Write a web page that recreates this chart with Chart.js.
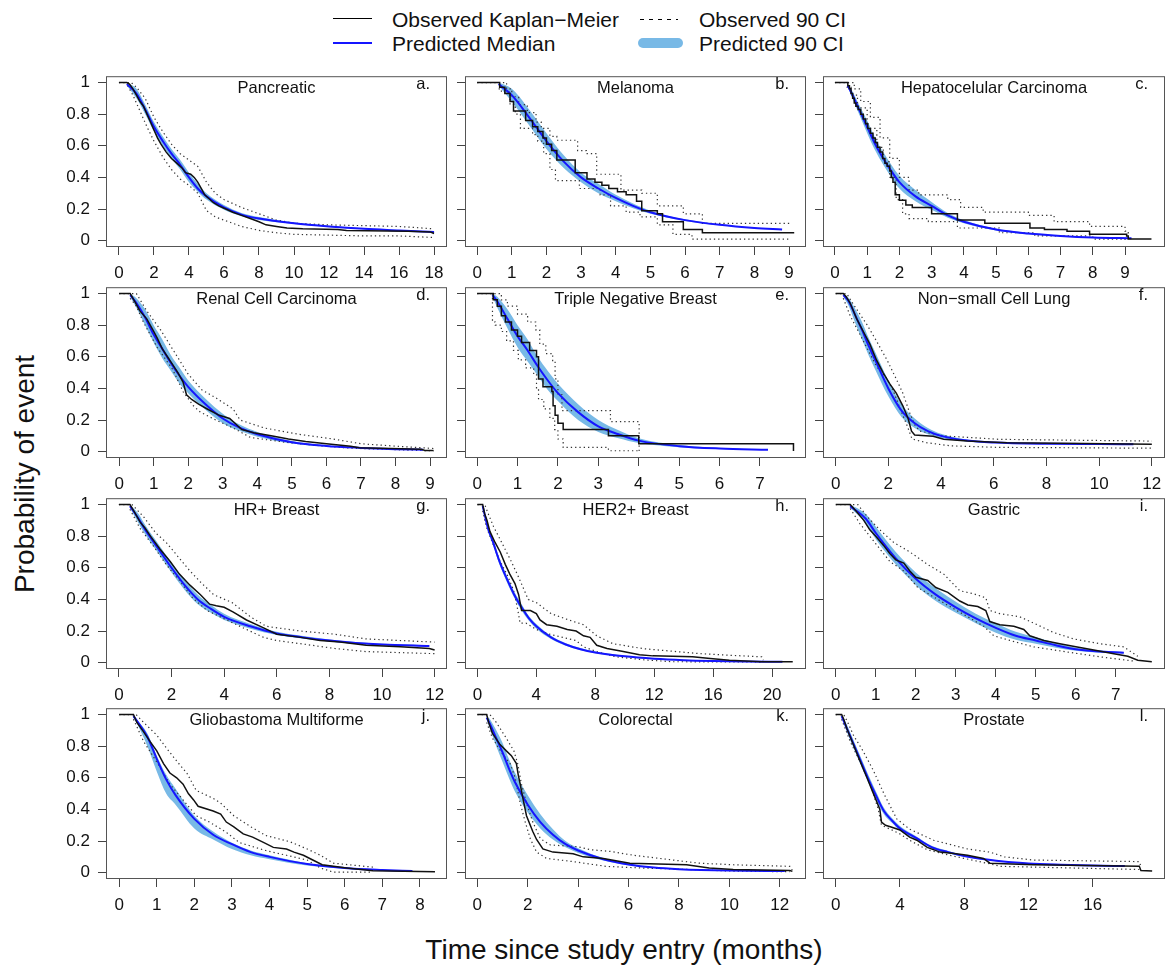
<!DOCTYPE html>
<html>
<head>
<meta charset="utf-8">
<title>Kaplan-Meier panels</title>
<script src="https://cdn.jsdelivr.net/npm/chart.js@4.4.1/dist/chart.umd.min.js"></script>
<style>
  body { margin: 0; background: #fff; }
  #fig { position: relative; width: 1167px; height: 969px; overflow: hidden;
         font-family: "Liberation Sans", Arial, Helvetica, sans-serif; color: #111; }
  #fig canvas { position: absolute; }
  .txt { position: absolute; line-height: 1; white-space: nowrap; }
  .legtxt { font-size: 21px; }
  .sample { position: absolute; }
</style>
</head>
<body>
<div id="fig">
  <div class="sample" style="left:333px;top:18px;width:39px;height:0;border-top:1.5px solid #000;"></div>
  <div class="txt legtxt" style="left:392px;top:8.5px;">Observed Kaplan−Meier</div>
  <div class="sample" style="left:333px;top:42px;width:39px;height:0;border-top:2px solid #1515ff;"></div>
  <div class="txt legtxt" style="left:392px;top:32.5px;">Predicted Median</div>
  <div class="sample" style="left:640px;top:19px;width:38px;height:1px;background:repeating-linear-gradient(to right,#000 0 4px,transparent 4px 9px);"></div>
  <div class="txt legtxt" style="left:699px;top:8.5px;">Observed 90 CI</div>
  <div class="sample" style="left:638px;top:38px;width:45px;height:10px;border-radius:5px;background:#78b9e6;"></div>
  <div class="txt legtxt" style="left:699px;top:32.5px;">Predicted 90 CI</div>
  <div class="txt" style="left:25px;top:474px;font-size:28px;transform:translate(-50%,-50%) rotate(-90deg);">Probability of event</div>
  <div class="txt" style="left:624px;top:950px;font-size:28px;transform:translate(-50%,-50%);">Time since study entry (months)</div>
</div>
<script>
// ---- panel labels and axes ----
const panelTitles = ['Pancreatic', 'Melanoma', 'Hepatocelular Carcinoma',
    'Renal Cell Carcinoma', 'Triple Negative Breast', 'Non\u2212small Cell Lung',
    'HR+ Breast', 'HER2+ Breast', 'Gastric',
    'Gliobastoma Multiforme', 'Colorectal', 'Prostate'];
const panelLetters = ['a.', 'b.', 'c.', 'd.', 'e.', 'f.', 'g.', 'h.', 'i.', 'j.', 'k.', 'l.'];
// small cohorts show visible steps, large ones look nearly smooth
const kmStepped = [false, true, true, false, true, false, false, false, false, false, false, false];
const yTicks = [0, 0.2, 0.4, 0.6, 0.8, 1];
const xTicks = [
    [0, 2, 4, 6, 8, 10, 12, 14, 16, 18], [0, 1, 2, 3, 4, 5, 6, 7, 8, 9], [0, 1, 2, 3, 4, 5, 6, 7, 8, 9],
    [0, 1, 2, 3, 4, 5, 6, 7, 8, 9], [0, 1, 2, 3, 4, 5, 6, 7], [0, 2, 4, 6, 8, 10, 12],
    [0, 2, 4, 6, 8, 10, 12], [0, 4, 8, 12, 16, 20], [0, 1, 2, 3, 4, 5, 6, 7],
    [0, 1, 2, 3, 4, 5, 6, 7, 8], [0, 2, 4, 6, 8, 10, 12], [0, 4, 8, 12, 16]
];
const xLimits = [
    [-0.74, 18.74], [-0.35, 9.49], [-0.37, 10.24],
    [-0.38, 9.49], [-0.3, 8.14], [-0.48, 12.5],
    [-0.49, 12.47], [-0.84, 22.3], [-0.32, 8.23],
    [-0.35, 8.72], [-0.49, 13.04], [-0.79, 20.5]
];

// ---- a. Pancreatic ----
const kmA = [[0,1],[0.45,1],[0.6,0.99],[0.8,0.96],[1.0,0.92],[1.2,0.88],[1.4,0.85],[1.6,0.80],[1.8,0.75],[2.0,0.70],[2.2,0.65],[2.4,0.61],[2.7,0.56],[3.0,0.52],[3.3,0.49],[3.6,0.46],[3.8,0.43],[4.1,0.42],[4.3,0.40],[4.5,0.37],[4.7,0.33],[4.9,0.29],[5.1,0.27],[5.4,0.24],[5.7,0.22],[6.1,0.20],[6.5,0.18],[7.0,0.16],[7.5,0.14],[8.0,0.12],[8.4,0.10],[9.0,0.09],[9.6,0.08],[10.5,0.075],[12.5,0.07],[13.0,0.065],[16.5,0.06],[17.8,0.055],[18.0,0.045]];
const ciUpA = [[0,1],[0.7,1],[1.0,0.97],[1.5,0.90],[2.0,0.78],[2.5,0.69],[3.0,0.61],[3.5,0.55],[4.0,0.51],[4.5,0.47],[5.0,0.37],[5.5,0.30],[6.0,0.26],[7.0,0.21],[8.0,0.17],[9.0,0.13],[10,0.11],[12,0.10],[14,0.095],[16,0.09],[18,0.075]];
const ciLoA = [[0.5,0.98],[0.8,0.92],[1.2,0.82],[1.6,0.72],[2.0,0.63],[2.5,0.53],[3.0,0.45],[3.5,0.39],[4.0,0.35],[4.5,0.30],[5.0,0.19],[5.5,0.15],[6,0.13],[7,0.09],[8,0.065],[9,0.05],[10,0.04],[12,0.035],[14,0.03],[16,0.03],[18,0.02]];
const predTA = [0.45,1,1.5,2,2.5,3,3.5,4,4.5,5,6,7,8,10,12,14,16,18];
const predMedA = [0.99,0.93,0.83,0.72,0.63,0.55,0.48,0.40,0.33,0.28,0.21,0.165,0.14,0.11,0.09,0.075,0.065,0.055];
const predLoA = [0.98,0.90,0.80,0.69,0.60,0.52,0.45,0.37,0.31,0.26,0.195,0.155,0.13,0.105,0.086,0.072,0.062,0.053];
const predHiA = [1.0,0.96,0.86,0.75,0.66,0.58,0.51,0.43,0.36,0.30,0.225,0.175,0.15,0.115,0.094,0.078,0.068,0.057];

// ---- b. Melanoma ----
const kmB = [[0,1],[0.62,1],[0.65,0.97],[0.8,0.93],[0.95,0.88],[1.05,0.82],[1.4,0.76],[1.6,0.72],[1.75,0.69],[1.9,0.65],[2.0,0.61],[2.15,0.57],[2.3,0.51],[2.83,0.43],[3.17,0.39],[3.4,0.37],[3.6,0.35],[3.8,0.33],[4.05,0.31],[4.3,0.29],[4.6,0.25],[4.75,0.19],[5.2,0.17],[5.35,0.12],[5.95,0.07],[6.5,0.05],[9.15,0.05]];
const ciUpB = [[0,1],[0.75,1],[0.85,0.96],[1.0,0.91],[1.2,0.86],[1.45,0.81],[1.7,0.75],[1.85,0.71],[2.1,0.66],[2.3,0.635],[2.9,0.57],[3.15,0.55],[3.45,0.42],[4.15,0.32],[4.75,0.30],[5.2,0.22],[5.95,0.17],[6.5,0.11],[9.05,0.11]];
const ciLoB = [[0.62,0.96],[0.7,0.94],[0.95,0.86],[1.1,0.80],[1.25,0.71],[1.6,0.67],[1.75,0.63],[1.92,0.55],[2.1,0.45],[2.26,0.38],[2.95,0.33],[3.55,0.29],[3.85,0.22],[4.3,0.18],[4.7,0.15],[5.2,0.10],[5.65,0.04],[6.2,0.01],[9.05,0.01]];
const predTB = [0.62,1,1.5,2,2.5,3,3.5,4,4.5,5,6,7,8,8.8];
const predMedB = [0.99,0.92,0.78,0.63,0.50,0.40,0.33,0.27,0.22,0.18,0.13,0.10,0.08,0.07];
const predLoB = [0.98,0.88,0.73,0.58,0.46,0.37,0.30,0.25,0.205,0.17,0.125,0.097,0.078,0.068];
const predHiB = [1.0,0.96,0.83,0.68,0.54,0.43,0.36,0.29,0.235,0.19,0.135,0.103,0.082,0.072];

// ---- c. Hepatocelular Carcinoma ----
const kmC = [[0,1],[0.36,1],[0.4,0.98],[0.45,0.96],[0.5,0.93],[0.55,0.9],[0.6,0.87],[0.65,0.85],[0.72,0.83],[0.8,0.80],[0.88,0.77],[0.95,0.74],[1.02,0.71],[1.1,0.68],[1.18,0.65],[1.25,0.62],[1.32,0.59],[1.4,0.56],[1.48,0.52],[1.55,0.49],[1.62,0.47],[1.7,0.44],[1.75,0.40],[1.8,0.37],[1.87,0.29],[2.0,0.255],[2.2,0.225],[2.4,0.21],[3.0,0.17],[3.8,0.13],[4.65,0.11],[6.05,0.08],[6.5,0.07],[7.2,0.06],[7.9,0.04],[9.05,0.03],[9.1,0.01],[9.82,0.01]];
const ciUpC = [[0,1],[0.45,1],[0.6,0.96],[0.8,0.88],[1.1,0.78],[1.4,0.65],[1.7,0.52],[2.0,0.40],[2.3,0.32],[2.6,0.29],[3.5,0.26],[3.9,0.21],[4.6,0.18],[6.0,0.16],[6.8,0.12],[7.9,0.09],[9.0,0.06],[9.1,0.03]];
const ciLoC = [[0.36,0.97],[0.5,0.92],[0.7,0.84],[1.0,0.71],[1.3,0.59],[1.5,0.50],[1.7,0.40],[1.9,0.26],[2.1,0.17],[2.3,0.14],[2.9,0.12],[3.8,0.08],[5.1,0.05],[6.2,0.03],[8.0,0.01],[9.0,0.005]];
const predTC = [0.4,0.5,0.75,1,1.25,1.5,1.75,2,2.5,3,3.5,4,5,6,7,8,9.2];
const predMedC = [0.98,0.94,0.83,0.72,0.61,0.52,0.44,0.37,0.28,0.22,0.16,0.12,0.07,0.045,0.03,0.02,0.015];
const predLoC = [0.97,0.92,0.80,0.68,0.57,0.48,0.40,0.33,0.25,0.195,0.145,0.11,0.065,0.04,0.027,0.018,0.013];
const predHiC = [0.99,0.96,0.86,0.76,0.65,0.56,0.48,0.41,0.32,0.245,0.175,0.13,0.075,0.05,0.033,0.022,0.017];

// ---- d. Renal Cell Carcinoma ----
const kmD = [[0,1],[0.32,1],[0.45,0.95],[0.6,0.89],[0.8,0.84],[1.0,0.76],[1.1,0.72],[1.25,0.65],[1.4,0.60],[1.55,0.55],[1.7,0.50],[1.85,0.44],[1.95,0.36],[2.1,0.33],[2.3,0.30],[2.55,0.27],[2.9,0.23],[3.2,0.21],[3.4,0.17],[3.55,0.14],[3.9,0.12],[4.4,0.10],[4.9,0.08],[5.4,0.065],[6.0,0.05],[6.7,0.035],[6.95,0.025],[8.75,0.015],[8.85,0.008],[9.1,0.008]];
const ciUpD = [[0,1],[0.5,1],[0.8,0.89],[1.2,0.77],[1.6,0.63],[2.0,0.49],[2.4,0.39],[2.8,0.34],[3.3,0.27],[3.5,0.20],[4.2,0.15],[5.2,0.11],[6.2,0.08],[7.0,0.05],[8.0,0.035],[9.1,0.02]];
const ciLoD = [[0.32,0.97],[0.5,0.92],[0.7,0.82],[1.1,0.66],[1.55,0.52],[1.85,0.38],[2.15,0.29],[2.35,0.25],[2.8,0.20],[3.3,0.15],[3.8,0.09],[4.8,0.06],[5.7,0.04],[6.7,0.022],[9.1,0.005]];
const predTD = [0.32,0.5,0.75,1,1.25,1.5,1.75,2,2.5,3,3.5,4,5,6,7,8,8.8];
const predMedD = [0.99,0.94,0.85,0.74,0.65,0.56,0.48,0.41,0.30,0.21,0.15,0.11,0.06,0.036,0.024,0.016,0.012];
const predLoD = [0.98,0.91,0.80,0.69,0.59,0.51,0.43,0.37,0.265,0.18,0.13,0.095,0.052,0.032,0.021,0.014,0.011];
const predHiD = [1.0,0.97,0.90,0.80,0.71,0.61,0.53,0.45,0.335,0.24,0.17,0.125,0.068,0.04,0.027,0.018,0.013];

// ---- e. Triple Negative Breast ----
const kmE = [[0,1],[0.38,1],[0.4,0.96],[0.5,0.92],[0.6,0.86],[0.7,0.82],[0.85,0.77],[1.0,0.73],[1.1,0.69],[1.3,0.64],[1.47,0.60],[1.52,0.46],[1.63,0.41],[1.85,0.38],[1.88,0.29],[1.93,0.23],[2.0,0.18],[2.13,0.14],[3.25,0.10],[4.0,0.05],[7.82,0.05],[7.83,0.005]];
const ciUpE = [[0,1],[0.48,1],[0.6,0.96],[0.75,0.92],[1.0,0.87],[1.25,0.82],[1.45,0.77],[1.55,0.68],[1.7,0.62],[1.87,0.57],[1.93,0.46],[2.0,0.36],[2.1,0.26],[3.25,0.26],[3.3,0.19],[4.0,0.19],[4.01,0.005]];
const ciLoE = [[0.38,1],[0.38,0.82],[0.45,0.80],[0.6,0.76],[0.73,0.70],[0.9,0.64],[1.02,0.58],[1.2,0.53],[1.4,0.49],[1.47,0.40],[1.52,0.33],[1.65,0.27],[1.8,0.21],[1.92,0.14],[2.0,0.08],[2.13,0.027],[3.25,0.006],[4.0,0.006]];
const predTE = [0.38,0.5,0.75,1,1.25,1.5,1.75,2,2.5,3,3.5,4,5,6,7.2];
const predMedE = [0.99,0.95,0.84,0.73,0.64,0.54,0.45,0.37,0.25,0.16,0.11,0.07,0.035,0.02,0.012];
const predLoE = [0.98,0.91,0.78,0.66,0.57,0.48,0.39,0.32,0.20,0.125,0.085,0.055,0.028,0.017,0.011];
const predHiE = [1.0,0.98,0.90,0.80,0.71,0.60,0.51,0.43,0.30,0.20,0.135,0.085,0.042,0.023,0.013];

// ---- f. Non-small Cell Lung ----
const kmF = [[0,1],[0.29,1],[0.4,0.98],[0.55,0.94],[0.7,0.88],[0.8,0.84],[1.05,0.76],[1.3,0.68],[1.55,0.58],[1.8,0.50],[2.05,0.43],[2.3,0.37],[2.55,0.29],[2.75,0.21],[2.88,0.13],[3.0,0.105],[3.7,0.098],[4.1,0.078],[5.0,0.067],[6.5,0.057],[9.4,0.051],[12,0.047]];
const ciUpF = [[0,1],[0.42,1],[0.6,0.95],[0.8,0.90],[1.2,0.80],[1.55,0.70],[1.95,0.58],[2.3,0.46],[2.55,0.37],[2.8,0.25],[3.0,0.17],[3.2,0.13],[4.1,0.10],[6.2,0.078],[12,0.067]];
const ciLoF = [[0.29,0.97],[0.55,0.86],[0.8,0.78],[1.05,0.70],[1.3,0.62],[1.55,0.54],[1.95,0.46],[2.2,0.38],[2.45,0.27],[2.7,0.17],[2.9,0.08],[3.45,0.057],[4.35,0.037],[6.2,0.027],[12,0.022]];
const predTF = [0.29,0.5,0.75,1,1.25,1.5,2,2.5,3,3.5,4,5,6,8,10,11.3];
const predMedF = [0.99,0.95,0.86,0.77,0.67,0.58,0.40,0.26,0.18,0.13,0.10,0.07,0.058,0.05,0.048,0.047];
const predLoF = [0.98,0.92,0.81,0.71,0.61,0.52,0.35,0.22,0.15,0.11,0.087,0.064,0.055,0.048,0.046,0.045];
const predHiF = [1.0,0.97,0.90,0.82,0.72,0.63,0.45,0.30,0.21,0.15,0.113,0.076,0.061,0.052,0.05,0.049];

// ---- g. HR+ Breast ----
const kmG = [[0,1],[0.42,1],[0.6,0.95],[0.8,0.89],[1.0,0.85],[1.2,0.80],[1.55,0.72],[1.95,0.64],[2.3,0.56],[2.7,0.49],[3.1,0.43],[3.45,0.37],[3.7,0.36],[4.0,0.35],[4.35,0.32],[4.85,0.27],[5.5,0.22],[6.0,0.18],[6.9,0.16],[7.65,0.14],[8.4,0.13],[9.4,0.11],[10.7,0.10],[11.8,0.09],[12,0.08]];
const ciUpG = [[0,1],[0.5,1],[0.95,0.92],[1.4,0.82],[1.8,0.76],[2.2,0.68],[2.7,0.58],[3.1,0.51],[3.6,0.43],[4.3,0.38],[5.0,0.29],[5.6,0.23],[6.9,0.20],[8.2,0.18],[9.4,0.15],[12,0.13]];
const ciLoG = [[0.42,0.97],[0.8,0.85],[1.3,0.74],[1.8,0.62],[2.3,0.52],[2.8,0.41],[3.35,0.33],[4.1,0.27],[4.85,0.21],[5.5,0.16],[6.0,0.14],[6.9,0.12],[8.2,0.09],[9.4,0.07],[12,0.057]];
const predTG = [0.42,0.75,1,1.5,2,2.5,3,3.5,4,5,6,7,8,9,10,11.8];
const predMedG = [0.99,0.91,0.84,0.72,0.60,0.49,0.40,0.34,0.29,0.23,0.185,0.16,0.14,0.125,0.115,0.105];
const predLoG = [0.98,0.88,0.81,0.69,0.57,0.46,0.37,0.315,0.27,0.215,0.175,0.152,0.134,0.12,0.11,0.1];
const predHiG = [1.0,0.94,0.87,0.75,0.63,0.52,0.43,0.365,0.31,0.245,0.195,0.168,0.146,0.13,0.12,0.11];

// ---- h. HER2+ Breast ----
const kmH = [[0,1],[0.36,1],[0.5,0.94],[0.65,0.90],[0.85,0.83],[1.2,0.76],[1.55,0.70],[1.9,0.62],[2.2,0.56],[2.55,0.50],[2.8,0.43],[3.0,0.33],[3.6,0.33],[4.0,0.31],[4.25,0.27],[4.7,0.24],[5.4,0.23],[6.1,0.21],[6.7,0.20],[7.2,0.17],[7.65,0.16],[8.1,0.11],[8.8,0.09],[9.9,0.07],[11.0,0.05],[11.9,0.043],[14.6,0.037],[15.8,0.027],[17.1,0.016],[19.3,0.006],[21.4,0.006]];
const ciUpH = [[0,1],[0.5,1],[0.7,0.95],[1.1,0.86],[1.65,0.76],[2.3,0.64],[2.8,0.54],[3.45,0.40],[4.0,0.38],[5.0,0.31],[6.2,0.27],[7.2,0.24],[8.1,0.17],[9.2,0.12],[11.3,0.088],[15.1,0.057],[17.1,0.047],[19.3,0.037],[19.4,0.016]];
const ciLoH = [[0.36,0.96],[0.6,0.86],[1.1,0.74],[1.55,0.64],[2.0,0.56],[2.45,0.46],[2.75,0.33],[2.9,0.25],[3.3,0.25],[4.0,0.21],[4.9,0.18],[5.8,0.16],[6.7,0.14],[7.2,0.10],[8.1,0.07],[9.4,0.037],[11.5,0.016],[13.3,0.006],[19.3,0.004]];
const predTH = [0.36,0.75,1,1.5,2,2.5,3,3.5,4,5,6,7,8,10,12,14,16,18,20.7];
const predMedH = [0.99,0.84,0.78,0.64,0.53,0.43,0.35,0.28,0.23,0.16,0.115,0.085,0.065,0.04,0.025,0.016,0.011,0.008,0.006];
const predLoH = [0.98,0.82,0.76,0.62,0.51,0.41,0.33,0.265,0.215,0.15,0.107,0.078,0.06,0.036,0.022,0.014,0.01,0.007,0.005];
const predHiH = [1.0,0.86,0.80,0.66,0.55,0.45,0.37,0.295,0.245,0.17,0.123,0.092,0.07,0.044,0.028,0.018,0.012,0.009,0.007];

// ---- i. Gastric ----
const kmI = [[0,1],[0.36,1],[0.5,0.96],[0.7,0.90],[0.85,0.84],[1.0,0.80],[1.2,0.74],[1.35,0.69],[1.5,0.65],[1.7,0.63],[1.85,0.58],[2.0,0.54],[2.3,0.52],[2.5,0.475],[2.8,0.445],[3.1,0.39],[3.3,0.365],[3.55,0.355],[3.75,0.33],[3.85,0.26],[4.1,0.24],[4.45,0.23],[4.7,0.21],[4.85,0.17],[5.2,0.14],[5.6,0.12],[6.0,0.10],[6.45,0.08],[6.95,0.057],[7.3,0.04],[7.55,0.016],[7.9,0.006]];
const ciUpI = [[0,1],[0.55,1],[0.8,0.92],[1.1,0.84],[1.45,0.76],[1.85,0.70],[2.3,0.62],[2.7,0.56],[3.1,0.455],[3.45,0.435],[3.75,0.41],[3.85,0.33],[4.1,0.31],[4.6,0.29],[4.95,0.25],[5.45,0.19],[5.95,0.15],[6.6,0.12],[7.2,0.10],[7.55,0.04]];
const ciLoI = [[0.36,0.975],[0.6,0.88],[0.85,0.80],[1.1,0.72],[1.35,0.64],[1.7,0.58],[2.05,0.475],[2.45,0.415],[2.85,0.355],[3.3,0.29],[3.7,0.23],[3.95,0.17],[4.5,0.13],[4.95,0.10],[5.8,0.067],[6.6,0.037],[7.45,0.01]];
const predTI = [0.36,0.75,1,1.5,2,2.5,3,3.5,4,4.5,5,5.5,6,6.5,7.2];
const predMedI = [0.99,0.91,0.82,0.66,0.53,0.43,0.35,0.28,0.22,0.17,0.14,0.11,0.085,0.072,0.063];
const predLoI = [0.98,0.88,0.78,0.62,0.49,0.39,0.315,0.25,0.19,0.145,0.12,0.095,0.075,0.065,0.058];
const predHiI = [1.0,0.94,0.86,0.70,0.57,0.47,0.385,0.31,0.25,0.195,0.16,0.125,0.095,0.079,0.068];

// ---- j. Gliobastoma Multiforme ----
const kmJ = [[0,1],[0.38,1],[0.47,0.95],[0.65,0.89],[0.82,0.83],[1.0,0.77],[1.18,0.69],[1.35,0.63],[1.53,0.60],[1.7,0.56],[1.84,0.50],[1.98,0.46],[2.1,0.42],[2.5,0.39],[2.7,0.37],[2.85,0.32],[3.05,0.29],[3.3,0.245],[3.55,0.225],[3.85,0.19],[4.1,0.16],[4.45,0.15],[4.65,0.13],[4.9,0.11],[5.15,0.08],[5.4,0.05],[5.7,0.04],[6.05,0.03],[6.75,0.012],[8.4,0.006]];
const ciUpJ = [[0,1],[0.45,1],[0.65,0.95],[1.0,0.87],[1.25,0.79],[1.55,0.70],[1.8,0.63],[2.05,0.52],[2.5,0.47],[2.7,0.44],[3.05,0.36],[3.5,0.29],[3.9,0.235],[4.55,0.195],[5.0,0.15],[5.35,0.11],[5.7,0.06],[6.75,0.035]];
const ciLoJ = [[0.38,0.97],[0.65,0.83],[1.0,0.70],[1.35,0.56],[1.7,0.46],[2.05,0.36],[2.4,0.32],[2.85,0.255],[3.2,0.19],[3.9,0.14],[4.45,0.11],[5.0,0.08],[5.35,0.03],[5.7,0.003],[6.75,0.003]];
const predTJ = [0.38,0.5,0.75,1,1.25,1.5,2,2.5,3,3.5,4,5,6,7,7.8];
const predMedJ = [0.99,0.95,0.86,0.72,0.59,0.49,0.34,0.24,0.18,0.13,0.10,0.055,0.03,0.017,0.01];
const predLoJ = [0.98,0.93,0.80,0.64,0.50,0.43,0.28,0.21,0.15,0.11,0.085,0.045,0.025,0.014,0.009];
const predHiJ = [1.0,0.96,0.88,0.74,0.62,0.53,0.36,0.26,0.19,0.14,0.11,0.06,0.033,0.019,0.011];

// ---- k. Colorectal ----
const kmK = [[0,1],[0.37,1],[0.45,0.95],[0.6,0.88],[0.9,0.81],[1.15,0.77],[1.35,0.74],[1.55,0.69],[1.62,0.62],[1.7,0.56],[1.82,0.46],[1.95,0.36],[2.1,0.30],[2.2,0.26],[2.35,0.21],[2.6,0.15],[3.0,0.13],[3.8,0.12],[4.2,0.10],[5.0,0.09],[6.05,0.06],[8.3,0.05],[9.2,0.03],[10.15,0.02],[12.4,0.014],[12.5,0.008]];
const ciUpK = [[0,1],[0.5,1],[0.75,0.95],[1.15,0.85],[1.45,0.77],[1.6,0.69],[1.75,0.56],[1.95,0.44],[2.2,0.32],[2.5,0.215],[2.9,0.175],[3.95,0.165],[4.5,0.145],[5.25,0.135],[6.2,0.11],[8.8,0.06],[10.15,0.05],[12.4,0.04],[12.5,0.014]];
const ciLoK = [[0.37,0.95],[0.6,0.85],[1.0,0.75],[1.3,0.69],[1.5,0.60],[1.7,0.44],[1.9,0.32],[2.1,0.215],[2.35,0.13],[2.75,0.09],[3.8,0.07],[5.1,0.04],[6.45,0.03],[8.4,0.02],[10.15,0.01],[12.4,0.006]];
const predTK = [0.37,0.5,0.75,1,1.25,1.5,2,2.5,3,3.5,4,5,6,7,8,10,12.2];
const predMedK = [0.98,0.94,0.85,0.76,0.66,0.57,0.43,0.32,0.24,0.18,0.14,0.085,0.052,0.032,0.022,0.013,0.01];
const predLoK = [0.97,0.91,0.80,0.70,0.60,0.51,0.38,0.28,0.21,0.16,0.125,0.077,0.047,0.029,0.02,0.012,0.009];
const predHiK = [0.99,0.97,0.90,0.82,0.72,0.63,0.49,0.37,0.275,0.20,0.155,0.093,0.057,0.035,0.024,0.014,0.011];

// ---- l. Prostate ----
const kmL = [[0,1],[0.37,1],[0.5,0.97],[0.7,0.91],[0.9,0.86],[1.1,0.81],[1.3,0.76],[1.5,0.71],[1.7,0.66],[1.95,0.60],[2.15,0.55],[2.35,0.50],[2.55,0.45],[2.75,0.40],[2.85,0.32],[3.1,0.30],[3.4,0.29],[4.0,0.27],[4.6,0.225],[5.05,0.205],[5.7,0.16],[6.5,0.13],[7.5,0.12],[8.2,0.11],[9.2,0.09],[9.6,0.06],[12.3,0.05],[18.9,0.04],[19.0,0.014],[19.7,0.01]];
const ciUpL = [[0,1],[0.5,1],[0.8,0.94],[1.1,0.87],[1.7,0.77],[2.35,0.645],[3.0,0.50],[3.4,0.42],[3.8,0.34],[4.6,0.275],[6.1,0.205],[8.2,0.15],[9.6,0.13],[10.5,0.10],[12.3,0.08],[18.9,0.07],[19.0,0.04]];
const ciLoL = [[0.37,0.97],[0.9,0.83],[1.5,0.705],[2.15,0.56],[2.65,0.40],[2.85,0.30],[3.5,0.27],[4.0,0.245],[4.6,0.205],[5.7,0.145],[7.1,0.11],[9.4,0.06],[10.25,0.04],[18.9,0.02]];
const predTL = [0.37,0.75,1,1.5,2,2.5,3,3.5,4,5,6,7,8,10,12,14,16,18];
const predMedL = [0.99,0.90,0.84,0.72,0.60,0.49,0.39,0.33,0.28,0.22,0.16,0.13,0.105,0.075,0.058,0.05,0.045,0.042];
const predLoL = [0.98,0.875,0.815,0.695,0.575,0.465,0.37,0.315,0.265,0.21,0.152,0.123,0.1,0.072,0.055,0.048,0.043,0.04];
const predHiL = [1.0,0.925,0.865,0.745,0.625,0.515,0.41,0.345,0.295,0.23,0.168,0.137,0.11,0.078,0.061,0.052,0.047,0.044];

// ---- layout ----
const colLeft = [106, 465, 823];
const colWidth = [341, 341, 342];
const rowTop = [70, 281, 492, 702];
const boxH = 177;
const FONT = '"Liberation Sans", Arial, Helvetica, sans-serif';
const BAND = '#78b9e6';

const panels = [
    { km: kmA, up: ciUpA, lo: ciLoA, t: predTA, med: predMedA, pLo: predLoA, pHi: predHiA },
    { km: kmB, up: ciUpB, lo: ciLoB, t: predTB, med: predMedB, pLo: predLoB, pHi: predHiB },
    { km: kmC, up: ciUpC, lo: ciLoC, t: predTC, med: predMedC, pLo: predLoC, pHi: predHiC },
    { km: kmD, up: ciUpD, lo: ciLoD, t: predTD, med: predMedD, pLo: predLoD, pHi: predHiD },
    { km: kmE, up: ciUpE, lo: ciLoE, t: predTE, med: predMedE, pLo: predLoE, pHi: predHiE },
    { km: kmF, up: ciUpF, lo: ciLoF, t: predTF, med: predMedF, pLo: predLoF, pHi: predHiF },
    { km: kmG, up: ciUpG, lo: ciLoG, t: predTG, med: predMedG, pLo: predLoG, pHi: predHiG },
    { km: kmH, up: ciUpH, lo: ciLoH, t: predTH, med: predMedH, pLo: predLoH, pHi: predHiH },
    { km: kmI, up: ciUpI, lo: ciLoI, t: predTI, med: predMedI, pLo: predLoI, pHi: predHiI },
    { km: kmJ, up: ciUpJ, lo: ciLoJ, t: predTJ, med: predMedJ, pLo: predLoJ, pHi: predHiJ },
    { km: kmK, up: ciUpK, lo: ciLoK, t: predTK, med: predMedK, pLo: predLoK, pHi: predHiK },
    { km: kmL, up: ciUpL, lo: ciLoL, t: predTL, med: predMedL, pLo: predLoL, pHi: predHiL }
];

function pairs(arr) {
    return arr.map(function (d) { return { x: d[0], y: d[1] }; });
}
function curve(t, v) {
    return t.map(function (x, k) { return { x: x, y: v[k] }; });
}

// box round each plot area
const framePlugin = {
    id: 'frame',
    afterDraw: function (chart) {
        const a = chart.chartArea;
        const ctx = chart.ctx;
        ctx.save();
        ctx.strokeStyle = '#555';
        ctx.lineWidth = 1;
        ctx.strokeRect(a.left + 0.5, a.top + 0.5, a.right - a.left - 1, a.bottom - a.top - 1);
        ctx.restore();
    }
};

const fig = document.getElementById('fig');

panels.forEach(function (p, i) {
    const col = i % 3;
    const row = Math.floor(i / 3);
    const left = colLeft[col];
    const top = rowTop[row];
    const w = colWidth[col];
    const step = kmStepped[i] ? 'before' : false;

    const cv = document.createElement('canvas');
    cv.width = w + 72;
    cv.height = boxH + 52;
    cv.style.width = cv.width + 'px';
    cv.style.height = cv.height + 'px';
    cv.style.left = (left - 60) + 'px';
    cv.style.top = (top - 12) + 'px';
    fig.appendChild(cv);

    const tickFont = { family: FONT, size: 17 };
    new Chart(cv.getContext('2d'), {
        type: 'line',
        data: {
            datasets: [
                { label: 'KM', data: pairs(p.km), stepped: step, borderColor: '#111',
                  borderWidth: 1.5, pointRadius: 0, fill: false, order: 1 },
                { label: 'Median', data: curve(p.t, p.med), borderColor: '#1515ff', borderWidth: 2,
                  pointRadius: 0, cubicInterpolationMode: 'monotone', fill: false, order: 2 },
                { label: 'CI upper', data: pairs(p.up), stepped: step, borderColor: '#333',
                  borderWidth: 1.2, borderDash: [1.3, 3], pointRadius: 0, fill: false, order: 3 },
                { label: 'CI lower', data: pairs(p.lo), stepped: step, borderColor: '#333',
                  borderWidth: 1.2, borderDash: [1.3, 3], pointRadius: 0, fill: false, order: 3 },
                { label: 'Band hi', data: curve(p.t, p.pHi), borderColor: 'rgba(0,0,0,0)', borderWidth: 1,
                  backgroundColor: BAND, fill: '+1', cubicInterpolationMode: 'monotone', pointRadius: 0, order: 5 },
                { label: 'Band lo', data: curve(p.t, p.pLo), borderColor: 'rgba(0,0,0,0)', borderWidth: 1,
                  fill: false, cubicInterpolationMode: 'monotone', pointRadius: 0, order: 6 }
            ]
        },
        options: {
            responsive: false,
            animation: false,
            events: [],
            layout: { padding: { top: 12, right: 12, left: 0, bottom: 0 } },
            plugins: { legend: { display: false }, tooltip: { enabled: false } },
            scales: {
                x: {
                    type: 'linear',
                    min: xLimits[i][0],
                    max: xLimits[i][1],
                    border: { display: false },
                    grid: { drawOnChartArea: false, drawTicks: true, tickLength: 8, color: '#444' },
                    ticks: { autoSkip: false, maxRotation: 0, padding: 8, font: tickFont, color: '#111',
                             callback: function (v) { return String(v); } },
                    afterBuildTicks: function (s) { s.ticks = xTicks[i].map(function (v) { return { value: v }; }); },
                    afterFit: function (s) { s.height = 40; }
                },
                y: {
                    type: 'linear',
                    min: -0.04,
                    max: 1.04,
                    border: { display: false },
                    grid: { drawOnChartArea: false, drawTicks: true, tickLength: 8, color: '#444' },
                    ticks: { autoSkip: false, padding: 8, font: tickFont, color: '#111',
                             callback: function (v) { return col === 0 ? String(v) : ''; } },
                    afterBuildTicks: function (s) { s.ticks = yTicks.map(function (v) { return { value: v }; }); },
                    afterFit: function (s) { s.width = 60; }
                }
            }
        },
        plugins: [framePlugin]
    });

    const title = document.createElement('div');
    title.className = 'txt';
    title.textContent = panelTitles[i];
    title.style.fontSize = '16.5px';
    title.style.left = (left + w / 2) + 'px';
    title.style.top = (top + 9) + 'px';
    title.style.transform = 'translateX(-50%)';
    fig.appendChild(title);

    const letter = document.createElement('div');
    letter.className = 'txt';
    letter.textContent = panelLetters[i];
    letter.style.fontSize = '16.5px';
    letter.style.left = (left + w - 17) + 'px';
    letter.style.top = (top + 5) + 'px';
    letter.style.transform = 'translateX(-100%)';
    fig.appendChild(letter);
});
</script>
</body>
</html>
